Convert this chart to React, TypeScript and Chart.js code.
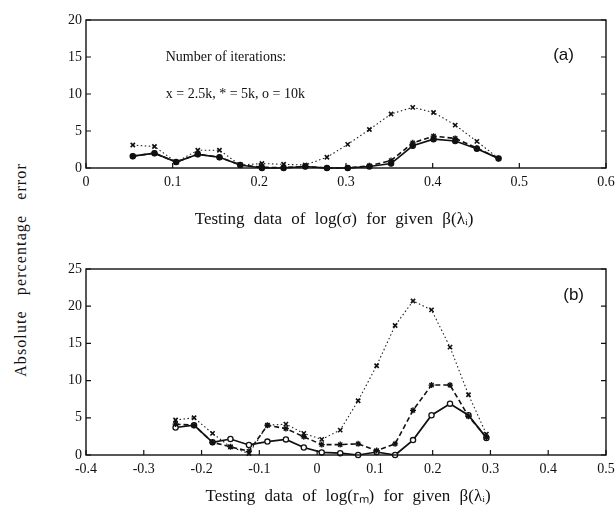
import React, { useEffect, useRef } from "react";
import { Chart, registerables } from "chart.js";

Chart.register(...registerables);

// ---------- Data ----------
const topX = [0.054, 0.079, 0.104, 0.129, 0.154, 0.178, 0.203, 0.228, 0.253, 0.278, 0.302, 0.327, 0.352, 0.377, 0.401, 0.426, 0.451, 0.476];
const top2_5k = [3.1, 2.9, 0.8, 2.4, 2.4, 0.4, 0.6, 0.5, 0.4, 1.45, 3.2, 5.2, 7.3, 8.2, 7.5, 5.8, 3.6, 1.3];
const top5k = [1.6, 2.0, 0.8, 1.85, 1.45, 0.4, 0.1, 0.05, 0.2, 0.0, 0.0, 0.3, 1.0, 3.4, 4.3, 4.0, 2.7, 1.3];
const top10k = [1.6, 2.0, 0.8, 1.85, 1.45, 0.4, 0.0, 0.0, 0.2, 0.0, 0.0, 0.2, 0.6, 3.0, 3.9, 3.65, 2.6, 1.3];

const botX = [-0.245, -0.213, -0.181, -0.15, -0.118, -0.086, -0.054, -0.023, 0.008, 0.04, 0.071, 0.103, 0.135, 0.166, 0.198, 0.23, 0.262, 0.293];
const bot2_5k = [4.7, 5.0, 2.9, 1.1, 0.2, 4.0, 4.15, 2.9, 2.1, 3.35, 7.3, 12.0, 17.4, 20.7, 19.5, 14.5, 8.1, 2.8];
const bot5k = [4.15, 4.0, 1.7, 1.1, 0.5, 4.0, 3.55, 2.45, 1.4, 1.4, 1.5, 0.6, 1.5, 6.0, 9.4, 9.4, 5.2, 2.4];
const bot10k = [3.7, 4.0, 1.7, 2.15, 1.35, 1.8, 2.1, 1.0, 0.35, 0.25, 0.0, 0.4, 0.0, 2.0, 5.35, 6.9, 5.35, 2.3];

const topXTicks = [0, 0.1, 0.2, 0.3, 0.4, 0.5, 0.6];
const topXLabels = ["0", "0.1", "0.2", "0.3", "0.4", "0.5", "0.6"];
const topYTicks = [0, 5, 10, 15, 20];
const topYLabels = ["0", "5", "10", "15", "20"];
const botXTicks = [-0.4, -0.3, -0.2, -0.1, 0, 0.1, 0.2, 0.3, 0.4, 0.5];
const botXLabels = ["-0.4", "-0.3", "-0.2", "-0.1", "0", "0.1", "0.2", "0.3", "0.4", "0.5"];
const botYTicks = [0, 5, 10, 15, 20, 25];
const botYLabels = ["0", "5", "10", "15", "20", "25"];

const seriesNames = ["2.5k iterations", "5k iterations", "10k iterations"];
const topTitle = "Testing data of log(σ) for given β(λᵢ)";
const botTitle = "Testing data of log(rₘ) for given β(λᵢ)";
const yTitle = "Absolute percentage error";
const legendLine1 = "Number of iterations:";
const legendLine2 = "x = 2.5k, * = 5k, o = 10k";

const SERIF = "'Liberation Serif', 'Times New Roman', serif";
const SANS = "'Liberation Sans', Arial, sans-serif";

// ---------- Plugin: box, inward ticks, annotations, axis title ----------
const framePlugin = {
  id: "frame",
  afterDraw(chart: any, _args: any, opts: any) {
    const { ctx, chartArea } = chart;
    const { left, right, top, bottom } = chartArea;
    const xs = chart.scales.x;
    const ys = chart.scales.y;
    ctx.save();
    ctx.strokeStyle = "#111";
    ctx.lineWidth = 1.4;
    ctx.strokeRect(left, top, right - left, bottom - top);
    ctx.lineWidth = 1.2;
    ctx.beginPath();
    for (const t of ys.ticks) {
      const y = ys.getPixelForValue(t.value);
      ctx.moveTo(left, y);
      ctx.lineTo(left + 5, y);
      ctx.moveTo(right, y);
      ctx.lineTo(right - 5, y);
    }
    for (const t of xs.ticks) {
      const x = xs.getPixelForValue(t.value);
      ctx.moveTo(x, bottom);
      ctx.lineTo(x, bottom - 5);
    }
    ctx.stroke();
    ctx.fillStyle = "#111";
    ctx.textBaseline = "middle";
    for (const a of opts.texts || []) {
      ctx.font = a.font;
      ctx.textAlign = a.align || "left";
      ctx.fillText(a.text, xs.getPixelForValue(a.x), ys.getPixelForValue(a.y));
    }
    if (opts.title) {
      const t = opts.title;
      ctx.font = `17px ${SERIF}`;
      ctx.textAlign = "center";
      (ctx as any).wordSpacing = "5px";
      ctx.fillText(t.text, left + t.frac * (right - left), bottom + t.dy);
      (ctx as any).wordSpacing = "0px";
    }
    ctx.restore();
  },
};

function makeConfig(p: {
  xs: number[];
  s1: number[];
  s2: number[];
  s3: number[];
  xTicks: number[];
  xLabels: string[];
  yTicks: number[];
  yLabels: string[];
  title: any;
  padTop: number;
  xHeight: number;
  circleFill: string;
  texts: any[];
}) {
  const pts = (ys: number[]) => p.xs.map((x, i) => ({ x, y: ys[i] }));
  return {
    type: "line" as const,
    data: {
      datasets: [
        {
          label: seriesNames[0],
          data: pts(p.s1),
          borderColor: "#222",
          borderWidth: 1.1,
          borderDash: [1.5, 2.5],
          pointStyle: "crossRot",
          pointRadius: 3,
          pointBorderWidth: 1.6,
          pointBorderColor: "#111",
          fill: false,
          tension: 0,
          clip: false,
        },
        {
          label: seriesNames[1],
          data: pts(p.s2),
          borderColor: "#111",
          borderWidth: 1.6,
          borderDash: [5, 3],
          pointStyle: "star",
          pointRadius: 3,
          pointBorderWidth: 1.3,
          pointBorderColor: "#111",
          fill: false,
          tension: 0,
          clip: false,
        },
        {
          label: seriesNames[2],
          data: pts(p.s3),
          borderColor: "#111",
          borderWidth: 1.7,
          pointStyle: "circle",
          pointRadius: 2.6,
          pointBorderWidth: 1.3,
          pointBorderColor: "#111",
          pointBackgroundColor: p.circleFill,
          fill: false,
          tension: 0,
          clip: false,
        },
      ],
    },
    options: {
      responsive: false,
      animation: false,
      devicePixelRatio: 1,
      layout: { padding: { top: p.padTop, right: 10, left: 0, bottom: 0 } },
      plugins: {
        legend: { display: false },
        tooltip: { enabled: false },
        frame: { texts: p.texts, title: p.title },
      },
      scales: {
        x: {
          type: "linear",
          min: p.xTicks[0],
          max: p.xTicks[p.xTicks.length - 1],
          afterBuildTicks: (s: any) => {
            s.ticks = p.xTicks.map((v) => ({ value: v }));
          },
          afterFit: (s: any) => {
            s.height = p.xHeight;
            s.paddingRight = 0;
          },
          grid: { display: false, drawTicks: false },
          border: { display: false },
          ticks: {
            autoSkip: false,
            maxRotation: 0,
            padding: 6,
            color: "#111",
            font: { family: SERIF, size: 14 },
            callback: (_v: any, i: number) => p.xLabels[i],
          },
        },
        y: {
          type: "linear",
          min: p.yTicks[0],
          max: p.yTicks[p.yTicks.length - 1],
          afterBuildTicks: (s: any) => {
            s.ticks = p.yTicks.map((v) => ({ value: v }));
          },
          afterFit: (s: any) => {
            s.width = 46;
          },
          grid: { display: false, drawTicks: false },
          border: { display: false },
          ticks: {
            autoSkip: false,
            padding: 4,
            color: "#111",
            font: { family: SERIF, size: 14 },
            callback: (_v: any, i: number) => p.yLabels[i],
          },
        },
      },
    },
    plugins: [framePlugin],
  };
}

export default function App() {
  const topRef = useRef<HTMLCanvasElement>(null);
  const botRef = useRef<HTMLCanvasElement>(null);

  useEffect(() => {
    const c1 = new Chart(
      topRef.current as HTMLCanvasElement,
      makeConfig({
        xs: topX,
        s1: top2_5k,
        s2: top5k,
        s3: top10k,
        xTicks: topXTicks,
        xLabels: topXLabels,
        yTicks: topYTicks,
        yLabels: topYLabels,
        title: { text: topTitle, frac: 0.477, dy: 52 },
        padTop: 20,
        xHeight: 72,
        circleFill: "#111",
        texts: [
          { text: legendLine1, x: 0.092, y: 15, font: `14px ${SERIF}` },
          { text: legendLine2, x: 0.092, y: 10, font: `14px ${SERIF}` },
          { text: "(a)", x: 0.551, y: 15.2, font: `17px ${SANS}`, align: "center" },
        ],
      }) as any
    );
    const c2 = new Chart(
      botRef.current as HTMLCanvasElement,
      makeConfig({
        xs: botX,
        s1: bot2_5k,
        s2: bot5k,
        s3: bot10k,
        xTicks: botXTicks,
        xLabels: botXLabels,
        yTicks: botYTicks,
        yLabels: botYLabels,
        title: { text: botTitle, frac: 0.504, dy: 42 },
        padTop: 19,
        xHeight: 59,
        circleFill: "#fff",
        texts: [{ text: "(b)", x: 0.444, y: 21.4, font: `17px ${SANS}`, align: "center" }],
      }) as any
    );
    return () => {
      c1.destroy();
      c2.destroy();
    };
  }, []);

  return (
    <div
      style={{
        position: "absolute",
        left: 0,
        top: 0,
        width: 616,
        height: 514,
        background: "#fff",
        overflow: "hidden",
      }}
    >
      <canvas ref={topRef} width={576} height={240} style={{ position: "absolute", left: 40, top: 0 }} />
      <canvas ref={botRef} width={576} height={264} style={{ position: "absolute", left: 40, top: 250 }} />
      <div
        style={{
          position: "absolute",
          left: 21,
          top: 270,
          transform: "translate(-50%, -50%) rotate(-90deg)",
          whiteSpace: "nowrap",
          fontFamily: SERIF,
          fontSize: 16,
          letterSpacing: "1.1px",
          wordSpacing: "10px",
          color: "#111",
        }}
      >
        {yTitle}
      </div>
    </div>
  );
}
